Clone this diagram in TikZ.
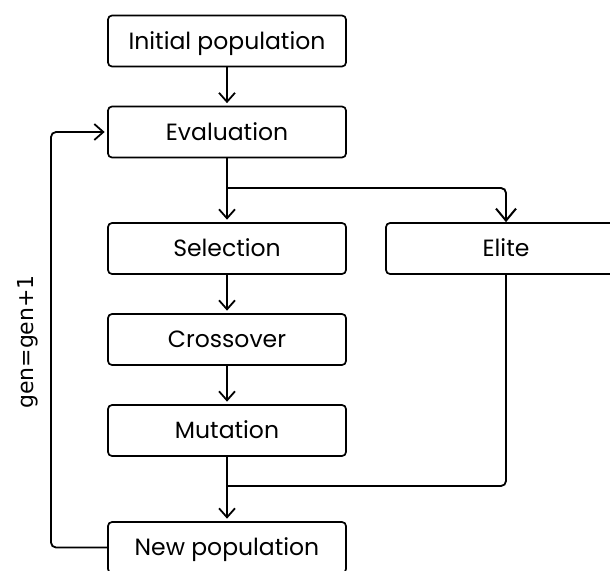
\documentclass[tikz,border=0pt]{standalone}
\usepackage{fontspec}
\setmainfont{Poppins}
\newfontfamily\labelfont{DejaVu Sans}
\usetikzlibrary{arrows.meta}

\begin{document}
\begin{tikzpicture}[x=1pt,y=-1pt,
  box/.style={draw, line width=1.7pt, rounded corners=4pt,
    minimum width=238pt, minimum height=51pt, inner sep=0pt,
    text height=16.4pt, text depth=0pt,
    font=\fontsize{23.5}{27}\selectfont},
  flow/.style={line width=1.8pt, shorten >=2.5pt,
    -{Straight Barb[length=9pt,width=16pt,line width=1.8pt]}},
  bigflow/.style={line width=1.9pt,
    -{Straight Barb[length=12pt,width=20pt,line width=2pt]}},
  link/.style={line width=1.8pt},
]
\useasboundingbox (0,0) rectangle (610,570);
\clip (0,0) rectangle (610,570);

% main column
\node[box] (init)  at (227,41)    {Initial population};
\node[box] (eval)  at (227,132)   {Evaluation};
\node[box] (sel)   at (227,248.5) {Selection};
\node[box] (cross) at (227,339.5) {Crossover};
\node[box] (mut)   at (227,430.5) {Mutation};
\node[box] (newp)  at (227,547.5) {New population};
% side branch
\node[box, minimum width=240pt] (elite) at (506,248.5) {Elite};

% loop label
\node[rotate=90, inner sep=0pt, font=\labelfont\fontsize{22}{26}\selectfont] (genlabel) at (27.5,342) {gen=gen+1};

% branch and join points
\coordinate (split) at (227,188);
\coordinate (join)  at (227,486);
\coordinate (loopcol) at (51,0);

\draw[flow] (init) -- (eval);
\draw[flow] (eval) -- (sel);
\draw[bigflow, rounded corners=5pt] (split) -| (elite.north);
\draw[flow] (sel) -- (cross);
\draw[flow] (cross) -- (mut);
\draw[flow] (mut) -- (newp);
\draw[link, rounded corners=5pt] (elite.south) |- (join);
\draw[flow, rounded corners=5pt] (newp.west) -| (loopcol |- eval.west) -- (eval.west);
\end{tikzpicture}
\end{document}
